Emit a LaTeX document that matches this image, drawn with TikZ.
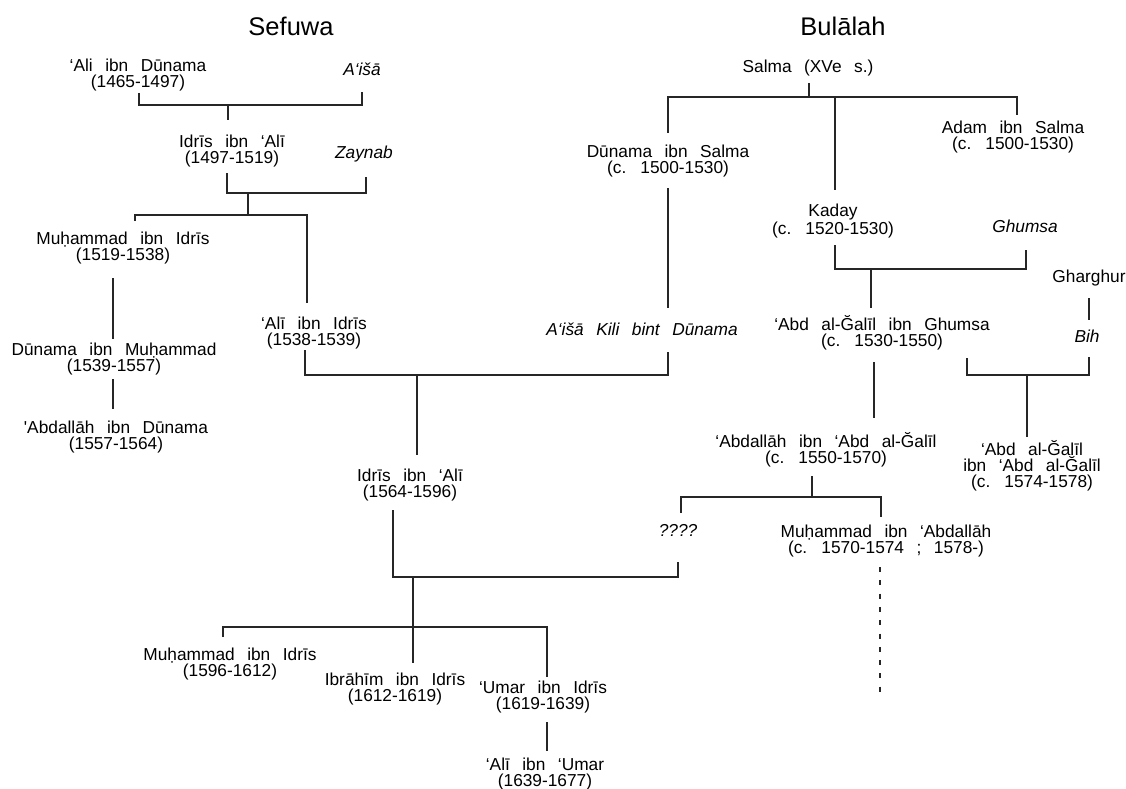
\documentclass[tikz,border=0pt]{standalone}
\usepackage{fontspec}
\newfontfamily\tf{Liberation Sans}
\newcommand\widesp{\spaceskip 12.5pt plus 1pt minus 1pt\relax}
\newcommand\pfont{\tf\fontsize{17.3}{16}\selectfont\widesp}
\newcommand\sfont{\tf\itshape\fontsize{17.3}{16}\selectfont\widesp}
\begin{document}
\begin{tikzpicture}[x=1pt,y=-1pt,
  person/.style={anchor=base, align=center, inner sep=0pt, font=\pfont},
  spouse/.style={person, font=\sfont},
  dyn/.style={anchor=base, inner sep=0pt, font=\tf\fontsize{25.5}{28}\selectfont},
  link/.style={draw=black!85, line width=1.2pt},
  unsure/.style={link, dash pattern=on 5pt off 8.3pt}]
\useasboundingbox (0,0) rectangle (1126,789);
% titles (anchor = baseline of the last line)
\node[dyn] (sef) at (291,36) {Sefuwa};
\node[dyn] (bul) at (843,36) {Bulālah};
% Sefuwa
\node[person] (ali) at (138,88) {‘Ali ibn Dūnama\\(1465-1497)};
\node[spouse] (aisha) at (362,76) {A‘išā};
\node[person] (idris1) at (232,163) {Idrīs ibn ‘Alī\\(1497-1519)};
\node[spouse] (zaynab) at (364,158) {Zaynab};
\node[person] (muh1) at (123,260) {Muḥammad ibn Idrīs\\(1519-1538)};
\node[person] (dun1) at (114,371) {Dūnama ibn Muḥammad\\(1539-1557)};
\node[person] (abd1) at (116,449) {'Abdallāh ibn Dūnama\\(1557-1564)};
\node[person] (alii) at (314,345) {‘Alī ibn Idrīs\\(1538-1539)};
\node[spouse] (aishak) at (642,335) {A‘išā Kili bint Dūnama};
\node[person] (idris2) at (410,497) {Idrīs ibn ‘Alī\\(1564-1596)};
\node[person] (muh2) at (230,676) {Muḥammad ibn Idrīs\\(1596-1612)};
\node[person] (ibr) at (395,701) {Ibrāhīm ibn Idrīs\\(1612-1619)};
\node[person] (umar) at (543,709) {‘Umar ibn Idrīs\\(1619-1639)};
\node[person] (aliu) at (545,786) {‘Alī ibn ‘Umar\\(1639-1677)};
% Bulalah
\node[person] (salma) at (808,73) {Salma (XVe s.)};
\node[person] (duns) at (668,173) {Dūnama ibn Salma\\(c. 1500-1530)};
\node[person] (adam) at (1013,149) {Adam ibn Salma\\(c. 1500-1530)};
\node[person] (kaday) at (833,234) {Kaday\\(c. 1520-1530)};
\node[spouse] (ghumsa) at (1025,232) {Ghumsa};
\node[person] (abdg) at (882,346) {‘Abd al-Ğalīl ibn Ghumsa\\(c. 1530-1550)};
\node[person] (gharg) at (1089,282) {Gharghur};
\node[spouse] (bih) at (1087,342) {Bih};
\node[person] (abdg2) at (1032,487) {‘Abd al-Ğalīl\\ibn ‘Abd al-Ğalīl\\(c. 1574-1578)};
\node[person] (abdal) at (826,463) {‘Abdallāh ibn ‘Abd al-Ğalīl\\(c. 1550-1570)};
\node[spouse] (q) at (678,536) {????};
\node[person] (muh3) at (886,553) {Muḥammad ibn ‘Abdallāh\\(c. 1570-1574 ; 1578-)};
% connectors Sefuwa
\draw[link] (139,93) |- (362,105) -- (362,92);
\draw[link] (228,105) -- (228,120);
\draw[link] (227,173) |- (366,193) -- (366,177);
\draw[link] (248,193) -- (248,215);
\draw[link] (135,221) -- (135,215) -- (307,215) -- (307,303);
\draw[link] (113,278) -- (113,339);
\draw[link] (113,379) -- (113,409);
\draw[link] (305,350) |- (668,375) -- (668,352);
\draw[link] (668,188) -- (668,308);
\draw[link] (417,375) -- (417,455);
\draw[link] (393,510) |- (678,577) -- (678,562);
\draw[link] (413,577) -- (413,663);
\draw[link] (223,637) -- (223,627) -- (547,627) -- (547,677);
\draw[link] (547,722) -- (547,751);
% connectors Bulalah
\draw[link] (809,83) -- (809,97);
\draw[link] (668,133) -- (668,97) -- (1017,97) -- (1017,115);
\draw[link] (835,97) -- (835,190);
\draw[link] (835,245) |- (1026,269) -- (1026,250);
\draw[link] (871,269) -- (871,308);
\draw[link] (874,362) -- (874,418);
\draw[link] (1089,298) -- (1089,320);
\draw[link] (967,358) |- (1089,375) -- (1089,357);
\draw[link] (1027,375) -- (1027,437);
\draw[link] (812,476) -- (812,497);
\draw[link] (681,513) -- (681,497) -- (881,497) -- (881,517);
\draw[unsure] (880,567) -- (880,699);
\end{tikzpicture}
\end{document}
